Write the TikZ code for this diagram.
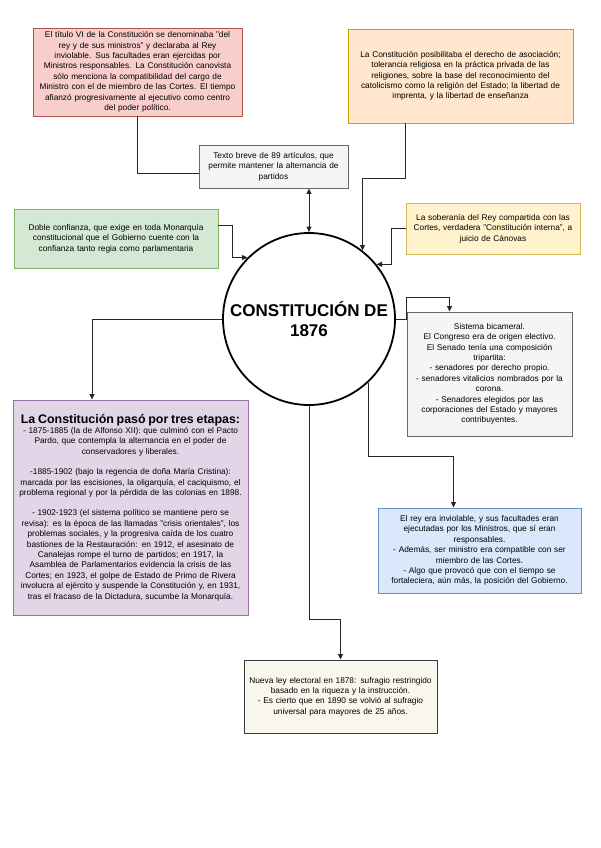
\documentclass[tikz,border=0pt]{standalone}
\usepackage{fontspec}
\setmainfont{Liberation Sans}
\usepackage{tikz}
\usetikzlibrary{arrows.meta, positioning, calc}

\definecolor{redfill}{HTML}{F8CECC}    \definecolor{redline}{HTML}{B85450}
\definecolor{orangefill}{HTML}{FFE6CC} \definecolor{orangeline}{HTML}{D79B00}
\definecolor{greyfill}{HTML}{F5F5F5}   \definecolor{greyline}{HTML}{666666}
\definecolor{greenfill}{HTML}{D5E8D4}  \definecolor{greenline}{HTML}{82B366}
\definecolor{yellowfill}{HTML}{FFF2CC} \definecolor{yellowline}{HTML}{D6B656}
\definecolor{purplefill}{HTML}{E1D5E7} \definecolor{purpleline}{HTML}{9673A6}
\definecolor{bluefill}{HTML}{DAE8FC}   \definecolor{blueline}{HTML}{6C8EBF}
\definecolor{beigefill}{HTML}{F9F7ED}  \definecolor{beigeline}{HTML}{36393D}

\begin{document}
\begin{tikzpicture}[
    x=1pt, y=-1pt,
    box/.style={rectangle, draw, line width=0.9pt, inner sep=3pt, align=center, font=\fontsize{8.3}{10.4}\selectfont},
    link/.style={line width=0.9pt, black!85},
    arrow/.style={-{Triangle[length=5.5pt,width=5pt]}, line width=0.9pt, black!85},
    dblarrow/.style={{Triangle[length=5.5pt,width=5pt]}-{Triangle[length=5.5pt,width=5pt]}, line width=0.9pt, black!85}
]
\useasboundingbox (0,0) rectangle (600,848);

\node[box, fill=redfill, draw=redline, text width=203pt, minimum height=88pt] (titulo) at (137.5,72)
  {El título VI de la Constitución se denominaba "del\\ rey y de sus ministros" y declaraba al Rey\\ inviolable. Sus facultades eran ejercidas por\\ Ministros responsables. La Constitución canovista\\ sólo menciona la compatibilidad del cargo de\\ Ministro con el de miembro de las Cortes. El tiempo\\ afianzó progresivamente al ejecutivo como centro\\ del poder político.};
\node[box, fill=orangefill, draw=orangeline, text width=219pt, minimum height=94pt] (derechos) at (460.5,76)
  {La Constitución posibilitaba el derecho de asociación;\\ tolerancia religiosa en la práctica privada de las\\ religiones, sobre la base del reconocimiento del\\ catolicismo como la religión del Estado; la libertad de\\ imprenta, y la libertad de enseñanza};
\node[box, fill=greyfill, draw=greyline, text width=143pt, minimum height=43pt] (texto) at (273.5,166.5)
  {Texto breve de 89 artículos, que\\ permite mantener la alternancia de\\ partidos};
\node[box, fill=greenfill, draw=greenline, text width=198pt, minimum height=59pt] (confianza) at (116,238.5)
  {Doble confianza, que exige en toda Monarquía\\ constitucional que el Gobierno cuente con la\\ confianza tanto regia como parlamentaria};
\node[box, fill=yellowfill, draw=yellowline, text width=168pt, minimum height=51pt] (soberania) at (493,228.5)
  {La soberanía del Rey compartida con las\\ Cortes, verdadera "Constitución interna", a\\ juicio de Cánovas};

\node[circle, draw, line width=1.8pt, minimum size=172pt, inner sep=0pt, align=center,
      font=\bfseries\fontsize{17}{20}\selectfont] (cons) at (309,319) {CONSTITUCIÓN DE\\1876};

\node[box, fill=greyfill, draw=greyline, text width=159pt, minimum height=124pt] (senado) at (489.5,374)
  {Sistema bicameral.\\ El Congreso era de origen electivo.\\ El Senado tenía una composición\\ tripartita:\\ - senadores por derecho propio.\\ - senadores vitalicios nombrados por la\\ corona.\\ - Senadores elegidos por las\\ corporaciones del Estado y mayores\\ contribuyentes.};
\node[box, fill=purplefill, draw=purpleline, text width=229pt, minimum height=215pt] (etapas) at (130.5,507.5)
  {{\fontsize{12.4}{14}\selectfont\bfseries La Constitución pasó por tres etapas:}\\
   - 1875-1885 (la de Alfonso XII): que culminó con el Pacto\\ Pardo, que contempla la alternancia en el poder de\\ conservadores y liberales.\\[10pt]
   -1885-1902 (bajo la regencia de doña María Cristina):\\ marcada por las escisiones, la oligarquía, el caciquismo, el\\ problema regional y por la pérdida de las colonias en 1898.\\[10pt]
   - 1902-1923 (el sistema político se mantiene pero se\\ revisa): es la época de las llamadas "crisis orientales", los\\ problemas sociales, y la progresiva caída de los cuatro\\ bastiones de la Restauración: en 1912, el asesinato de\\ Canalejas rompe el turno de partidos; en 1917, la\\ Asamblea de Parlamentarios evidencia la crisis de las\\ Cortes; en 1923, el golpe de Estado de Primo de Rivera\\ involucra al ejército y suspende la Constitución y, en 1931,\\ tras el fracaso de la Dictadura, sucumbe la Monarquía.};
\node[box, fill=bluefill, draw=blueline, text width=197pt, minimum height=85pt] (rey) at (479.5,550.5)
  {El rey era inviolable, y sus facultades eran\\ ejecutadas por los Ministros, que sí eran\\ responsables.\\ - Además, ser ministro era compatible con ser\\ miembro de las Cortes.\\ - Algo que provocó que con el tiempo se\\ fortaleciera, aún más, la posición del Gobierno.};
\node[box, fill=beigefill, draw=beigeline, text width=187pt, minimum height=73pt] (ley) at (340.5,696.5)
  {Nueva ley electoral en 1878: sufragio restringido\\ basado en la riqueza y la instrucción.\\ - Es cierto que en 1890 se volvió al sufragio\\ universal para mayores de 25 años.};

% connectors
\draw[link] (titulo.south) |- ([yshift=-7pt]texto.west);
\draw[dblarrow] (texto.south -| cons.north) -- (cons.north);
\draw[arrow] ([xshift=-55pt]derechos.south) -- ++(0,55) -| (cons.52);
\draw[arrow] ([yshift=13pt]confianza.east) -- ++(14,0) |- (cons.135);
\draw[arrow] (soberania.west) -- ++(-14,0) |- (cons.39);
\draw[arrow] (cons.west) -| ([xshift=-38.5pt]etapas.north);
\draw[arrow] (cons.east) -- (cons.east -| senado.west) |- ([xshift=-40pt,yshift=14pt]senado.north) -- ([xshift=-40pt]senado.north);
\draw[arrow] (cons.-47) |- ([xshift=-26pt,yshift=51pt]rey.north) -- ([xshift=-26pt]rey.north);
\draw[arrow] (cons.south) |- ([yshift=40pt]ley.north) -- (ley.north);
\end{tikzpicture}
\end{document}
